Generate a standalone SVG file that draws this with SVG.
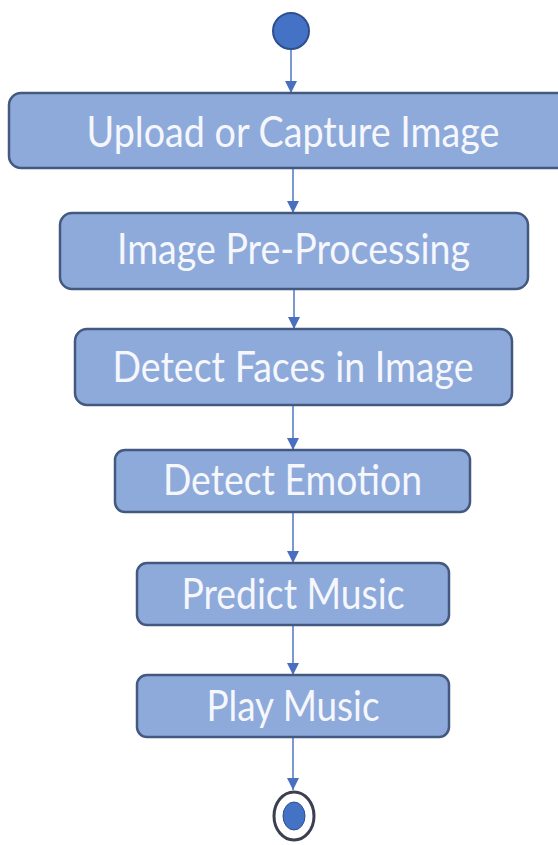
<svg xmlns="http://www.w3.org/2000/svg" width="558" height="845" viewBox="0 0 558 845">
  <defs>
    <marker id="arr" markerUnits="userSpaceOnUse" markerWidth="12" markerHeight="12" refX="10" refY="5" orient="auto" viewBox="0 0 10 10">
      <path d="M0,0 L10,5 L0,10 Z" fill="#4a6fbf"/>
    </marker>
    <style>
      .box { fill: #8eaadb; stroke: #44597f; stroke-width: 2.5; }
      .lbl { font-family: Lato, "Open Sans", "Liberation Sans", sans-serif; font-size: 42px; fill: #f5f7fc; text-anchor: middle; }
      .con { stroke: #5a7fc6; stroke-width: 1.6; fill: none; marker-end: url(#arr); }
    </style>
  </defs>
  <rect width="558" height="845" fill="#ffffff"/>

  <g id="connectors">
    <line class="con" x1="291" y1="49" x2="291" y2="93"/>
    <line class="con" x1="293" y1="168" x2="293" y2="213"/>
    <line class="con" x1="294" y1="289" x2="294" y2="329"/>
    <line class="con" x1="293" y1="405" x2="293" y2="450"/>
    <line class="con" x1="293" y1="512" x2="293" y2="563"/>
    <line class="con" x1="293" y1="625" x2="293" y2="675"/>
    <line class="con" x1="293" y1="737" x2="293" y2="790"/>
  </g>

  <g id="start">
    <circle cx="291" cy="31" r="18" fill="#4472c4" stroke="#2f4f8f" stroke-width="2"/>
  </g>

  <g id="upload">
    <rect class="box" x="9" y="93" width="570" height="75" rx="12"/>
    <text class="lbl" x="293" y="147" textLength="413" lengthAdjust="spacingAndGlyphs">Upload or Capture Image</text>
  </g>

  <g id="preprocess">
    <rect class="box" x="60" y="213" width="468" height="76" rx="12"/>
    <text class="lbl" x="293.5" y="264" textLength="353" lengthAdjust="spacingAndGlyphs">Image Pre-Processing</text>
  </g>

  <g id="faces">
    <rect class="box" x="75" y="329" width="437" height="76" rx="12"/>
    <text class="lbl" x="293" y="382" textLength="361" lengthAdjust="spacingAndGlyphs">Detect Faces in Image</text>
  </g>

  <g id="emotion">
    <rect class="box" x="115" y="450" width="355" height="62" rx="10"/>
    <text class="lbl" x="292.5" y="495" textLength="259" lengthAdjust="spacingAndGlyphs">Detect Emotion</text>
  </g>

  <g id="predict">
    <rect class="box" x="137" y="563" width="312" height="62" rx="10"/>
    <text class="lbl" x="293" y="609" textLength="223" lengthAdjust="spacingAndGlyphs">Predict Music</text>
  </g>

  <g id="play">
    <rect class="box" x="137" y="675" width="312" height="62" rx="10"/>
    <text class="lbl" x="293" y="721" textLength="173" lengthAdjust="spacingAndGlyphs">Play Music</text>
  </g>

  <g id="end">
    <ellipse cx="294" cy="816" rx="20" ry="24" fill="#ffffff" stroke="#3b3f4f" stroke-width="3"/>
    <ellipse cx="294" cy="816" rx="11" ry="14" fill="#4472c4" stroke="#2f4f8f" stroke-width="1"/>
  </g>
</svg>
